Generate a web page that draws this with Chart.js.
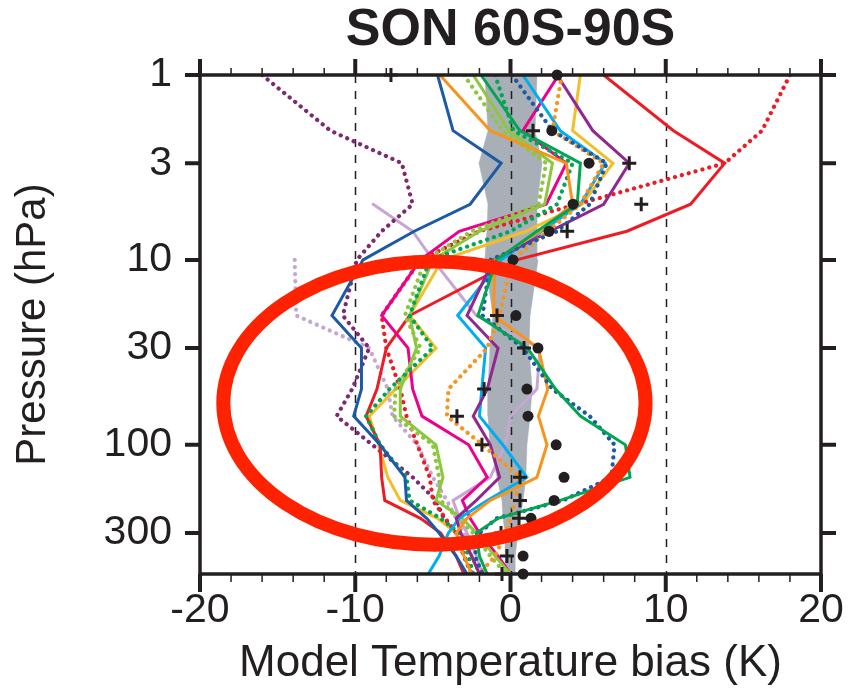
<!DOCTYPE html>
<html>
<head>
<meta charset="utf-8">
<script src="https://cdn.jsdelivr.net/npm/chart.js@4.4.1/dist/chart.umd.min.js"></script>
<style>
  html, body { margin: 0; padding: 0; background: #fff; }
</style>
</head>
<body>
<canvas id="chart" width="849" height="688"></canvas>
<script>
// pressure levels (hPa) shared by every profile
const pressure = [1, 2, 3, 5, 7, 10, 20, 30, 50, 70, 100, 150, 200, 250, 300, 400, 500];
const pressureTicks = [1, 3, 10, 30, 100, 300];
const biasTicks = [-20, -10, 0, 10, 20];

// model temperature bias (K) per level, null = no value
const blueSolid     = [-4.7, -3.7, -0.6, -2.6, -6.2, -9.5, -11.5, -9.6, -9.6, -10.1, -8.4, -6.8, -6.7, -5.4, -4.6, -3.5, -2.8];
const orangeSolid   = [-4.55, -1.3, 3.6, 4.0, 1.9, -1.0, -1.1, 1.8, 2.4, 1.8, 2.35, 1.7, -1.3, -2.8, -3.5, -3.0, -2.5];
const orangeDotted  = [3.3, 2.7, 6.0, 4.5, 2.4, 0.1, -0.7, -1.5, -4.0, -4.1, -1.8, 0.6, 0.3, 0.0, -0.3, -1.0, -2.0];
const lgreenSolid   = [-2.4, -0.1, 2.7, 2.2, -2.0, -5.0, -6.5, -6.05, -7.1, -7.1, -4.8, -4.35, -4.8, -3.1, -2.2, -1.0, 0.0];
const lgreenDotted  = [-3.0, -0.5, 2.3, 1.8, -2.5, -5.5, -6.8, -5.8, -7.4, -7.5, -5.0, -4.6, -4.5, -3.4, -2.4, -1.3, -0.3];
const greenSolid    = [-1.9, 0.6, 4.5, 4.3, 1.7, -0.9, -2.1, 1.1, 2.9, 4.5, 7.4, 7.7, 3.2, -0.8, -2.2, -2.0, -1.5];
const greenDotted   = [-1.0, 0.2, 4.0, 3.0, 0.0, -5.2, -6.5, -5.0, -7.8, -9.3, -8.4, -6.7, -6.5, -4.5, -3.3, -2.7, -2.4];
const blueDotted    = [0.1, 2.7, 6.2, 5.1, 3.0, -1.3, -1.8, 0.8, 2.7, 5.1, 6.7, 6.5, 3.4, -0.9, -2.0, -2.3, -1.8];
const cyanSolid     = [0.8, 3.2, 6.1, 4.5, 2.0, -0.6, -3.4, -1.6, -1.85, -2.0, -0.5, 1.05, -1.5, -3.3, -4.0, -4.6, -5.3];
const pinkSolid     = [3.1, 0.8, 3.6, 2.3, -3.3, -5.8, -8.3, -6.6, -6.3, -5.7, -2.7, -1.5, -3.1, -2.6, -2.0, -0.8, 0.0];
const redSolid      = [6.0, 10.5, 13.8, 11.6, 7.5, 0.4, -6.5, -8.0, -8.6, -9.3, -8.4, -8.3, -8.1, -5.8, -4.5, -3.5, -3.0];
const redDotted     = [18.0, 16.2, 13.8, 4.3, -2.0, -5.8, -8.3, -8.0, -7.1, -6.7, -6.0, -5.2, -5.0, -4.2, -3.5, -3.0, -2.5];
const purpleSolid   = [3.0, 5.3, 7.65, 6.0, 2.55, -1.1, -2.8, -0.8, -1.5, -2.4, -1.3, -0.7, -2.2, -3.5, -3.2, -2.5, -2.0];
const purpleDotted  = [-16.0, -11.6, -7.0, -6.3, -8.3, -9.9, -10.8, -9.1, -10.2, -11.2, -8.9, -6.3, -4.8, -4.3, -3.5, -3.0, -2.5];
const lilacSolid    = [null, null, null, -8.85, -6.3, -5.0, -2.2, 1.9, 1.7, 0.0, -0.35, -1.3, -3.7, -3.3, -2.8, -2.2, -1.8];
const lilacDotted   = [null, null, null, null, null, -13.9, -13.8, -9.1, -7.9, -7.6, -6.0, -5.0, -4.1, -3.5, -3.0, -2.5, -2.0];
const yellowSolid   = [4.5, 4.0, 6.6, 4.6, 1.0, -4.4, -6.5, -4.8, -7.4, -9.1, -8.5, -7.9, -7.1, -4.7, -3.5, -2.5, -2.0];

// observations
const obsDots  = [3.0, 2.66, 5.06, 4.03, 2.48, 0.16, 0.35, 1.77, 1.06, 1.13, 2.94, 3.45, 2.81, 1.32, null, 0.81, 0.81];
const obsPlus  = [-7.7, 1.45, 7.65, 8.42, 3.65, null, -0.87, 0.87, -1.7, -3.45, -1.84, 0.61, 0.61, 0.55, -0.61, -0.23, -0.55];

// grey spread band
const bandLeft  = [-1.65, -1.45, -2.03, -1.45, -1.52, -1.65, -1.13, -1.32, -1.45, -1.45, -1.32, -0.87, -0.55, -0.48, -0.35, -0.35, -0.3];
const bandRight = [1.71, 1.58, 2.03, 1.71, 1.71, 1.77, 1.26, 1.19, 1.39, 1.26, 1.06, 0.99, 0.81, 0.61, 0.48, 0.3, 0.3];

// hand drawn highlight ellipse (data units)
const ringBias = [-18.5, 8.7];
const ringPressure = [10.2, 347];

const INK = '#231f20';
const FONT = '"Liberation Sans", Arial, Helvetica, sans-serif';

function profile(vals) {
  return pressure.map((p, i) => ({ x: vals[i], y: p })).filter(d => d.x !== null);
}

const lineSpecs = [
  [lilacDotted, '#c6a6d4', true],
  [lilacSolid, '#c6a6d4', false],
  [purpleDotted, '#7d2a70', true],
  [yellowSolid, '#f2bf2a', false],
  [redDotted, '#ed1c24', true],
  [redSolid, '#ed1c24', false],
  [pinkSolid, '#ec008c', false],
  [lgreenDotted, '#8dc63f', true],
  [lgreenSolid, '#8dc63f', false],
  [greenDotted, '#00a651', true],
  [blueSolid, '#1c5aa6', false],
  [cyanSolid, '#00aeef', false],
  [purpleSolid, '#92278f', false],
  [orangeDotted, '#f7941d', true],
  [orangeSolid, '#f7941d', false],
  [blueDotted, '#1c5aa6', true],
  [greenSolid, '#00a651', false],
];

const lineSets = lineSpecs.map(([vals, color, dotted], i) => ({
  data: profile(vals),
  showLine: true,
  borderColor: color,
  borderWidth: dotted ? 4.2 : 3,
  borderDash: dotted ? [0.1, 7] : [],
  borderCapStyle: 'round',
  borderJoinStyle: 'miter',
  pointRadius: 0,
  tension: 0,
  order: 50 - i,
}));

const bandShape = profile(bandLeft).concat(profile(bandRight).reverse());

const datasets = [
  {
    data: bandShape,
    showLine: true,
    fill: 'shape',
    backgroundColor: '#a9afb6',
    borderColor: '#a9afb6',
    borderWidth: 0.5,
    pointRadius: 0,
    order: 100,
  },
  ...lineSets,
  {
    data: profile(obsDots),
    pointStyle: 'circle',
    pointRadius: 5.5,
    pointBackgroundColor: INK,
    pointBorderWidth: 0,
    clip: false,
    order: 1,
  },
  {
    data: profile(obsPlus),
    pointStyle: 'cross',
    pointRadius: 7,
    pointBorderColor: INK,
    pointBorderWidth: 3,
    clip: false,
    order: 0,
  },
];

const framePlugin = {
  id: 'frame',
  afterDatasetDraw(chart, args) {
    if (args.index !== 0) return;
    // dashed reference lines, above the band
    const { ctx, chartArea: a, scales: { x } } = chart;
    ctx.save();
    ctx.strokeStyle = INK;
    ctx.lineWidth = 1.5;
    ctx.setLineDash([8, 8]);
    [-10, 0, 10].forEach(v => {
      const px = Math.round(x.getPixelForValue(v)) + 0.5;
      ctx.beginPath();
      ctx.moveTo(px, a.top);
      ctx.lineTo(px, a.bottom);
      ctx.stroke();
    });
    ctx.restore();
  },
  afterDraw(chart) {
    const { ctx, chartArea: a, scales: { x, y } } = chart;
    ctx.save();
    ctx.strokeStyle = INK;
    ctx.lineCap = 'butt';
    // x ticks, top and bottom
    for (let v = -20; v <= 20; v += 2) {
      const px = x.getPixelForValue(v);
      const major = v % 10 === 0;
      ctx.lineWidth = major ? 4 : 1.5;
      ctx.beginPath();
      ctx.moveTo(px, a.bottom);
      ctx.lineTo(px, a.bottom + (major ? 18 : 8));
      ctx.moveTo(px, a.top);
      ctx.lineTo(px, a.top - (major ? 16 : 7));
      ctx.stroke();
    }
    // y ticks, left and right
    ctx.lineWidth = 4;
    pressureTicks.forEach(p => {
      const py = y.getPixelForValue(p);
      ctx.beginPath();
      ctx.moveTo(a.left - 15, py);
      ctx.lineTo(a.left, py);
      ctx.moveTo(a.right, py);
      ctx.lineTo(a.right + 15, py);
      ctx.stroke();
    });
    // frame
    ctx.lineWidth = 3.5;
    ctx.strokeRect(a.left, a.top, a.right - a.left, a.bottom - a.top);

    // red highlight ellipse
    const l = x.getPixelForValue(ringBias[0]);
    const r = x.getPixelForValue(ringBias[1]);
    const t = y.getPixelForValue(ringPressure[0]);
    const b = y.getPixelForValue(ringPressure[1]);
    ctx.strokeStyle = '#ff2200';
    ctx.lineWidth = 14;
    ctx.beginPath();
    ctx.ellipse((l + r) / 2, (t + b) / 2, (r - l) / 2, (b - t) / 2, 0, 0, Math.PI * 2);
    ctx.stroke();
    ctx.restore();
  },
};

Chart.defaults.font.family = FONT;
Chart.defaults.color = INK;

new Chart(document.getElementById('chart'), {
  type: 'scatter',
  data: { datasets },
  plugins: [framePlugin],
  options: {
    responsive: false,
    animation: false,
    layout: { padding: { left: 0, right: 28, top: 0, bottom: 0 } },
    plugins: {
      legend: { display: false },
      tooltip: { enabled: false },
      title: {
        display: true,
        text: 'SON 60S-90S',
        fullSize: false,
        color: INK,
        font: { size: 52, weight: 'bold', lineHeight: 1 },
        padding: { top: 5, bottom: 18 },
      },
    },
    scales: {
      x: {
        type: 'linear',
        min: -20,
        max: 20,
        grid: { display: false, drawTicks: false },
        border: { display: false },
        afterBuildTicks: s => { s.ticks = biasTicks.map(v => ({ value: v })); },
        afterFit: s => { s.height = 114; s.paddingLeft = 0; s.paddingRight = 0; },
        ticks: { font: { size: 41 }, padding: 12, maxRotation: 0, autoSkip: false, color: INK },
        title: {
          display: true,
          text: 'Model Temperature bias (K)',
          color: INK,
          font: { size: 44, lineHeight: 1 },
          padding: { top: 0, bottom: 2 },
        },
      },
      y: {
        type: 'logarithmic',
        reverse: true,
        min: 1,
        max: 500,
        grid: { display: false, drawTicks: false },
        border: { display: false },
        afterBuildTicks: s => { s.ticks = pressureTicks.map(v => ({ value: v })); },
        afterFit: s => { s.width = 200; },
        ticks: { font: { size: 41 }, padding: 28, color: INK, callback: v => String(v) },
        title: {
          display: true,
          text: 'Pressure (hPa)',
          color: INK,
          font: { size: 42, lineHeight: 1 },
          padding: { top: 12, bottom: 0 },
        },
      },
    },
  },
});
</script>
</body>
</html>
